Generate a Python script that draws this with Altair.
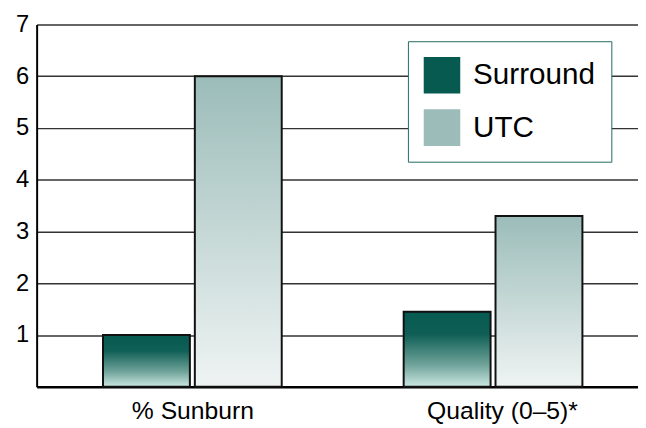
import altair as alt
import pandas as pd

categories = ["% Sunburn", "Quality (0–5)*"]
series = ["Surround", "UTC"]
surround_values = [1.0, 1.45]
utc_values = [6.0, 3.3]
y_ticks = [1, 2, 3, 4, 5, 6, 7]
legend_colors = ["#065a50", "#9bbcb9"]

rows = []
for i, c in enumerate(categories):
    rows.append({"category": c, "series": "Surround", "value": surround_values[i]})
    rows.append({"category": c, "series": "UTC", "value": utc_values[i]})
df = pd.DataFrame(rows)

FONT = "Liberation Sans"

grad_surround = {
    "gradient": "linear", "x1": 0, "y1": 0, "x2": 0, "y2": 1,
    "stops": [
        {"offset": 0, "color": "#065a50"},
        {"offset": 0.3, "color": "#0f5f56"},
        {"offset": 0.7, "color": "#6ea299"},
        {"offset": 1, "color": "#cce8e3"},
    ],
}
grad_utc = {
    "gradient": "linear", "x1": 0, "y1": 0, "x2": 0, "y2": 1,
    "stops": [
        {"offset": 0, "color": "#9bbcb9"},
        {"offset": 1, "color": "#eff4f3"},
    ],
}

x_enc = alt.X(
    "category:N", sort=categories,
    scale=alt.Scale(paddingInner=0, paddingOuter=0),
    axis=alt.Axis(
        title=None, labelAngle=0,
        labelOffset={"condition": {"test": "datum.value === '% Sunburn'", "value": 6}, "value": 15},
    ),
)
xo_enc = alt.XOffset(
    "series:N", sort=series,
    scale=alt.Scale(domain=series, paddingInner=0, paddingOuter=0.637, align=0.546),
)
y_enc = alt.Y(
    "value:Q",
    scale=alt.Scale(domain=[0, 7], nice=False),
    axis=alt.Axis(title=None, values=y_ticks, grid=True),
)

base = alt.Chart(df).encode(x=x_enc, xOffset=xo_enc, y=y_enc)

bars_s = base.transform_filter(alt.datum.series == "Surround").mark_bar(
    fill=grad_surround, stroke="#111111", strokeWidth=2, width=88
)
bars_u = base.transform_filter(alt.datum.series == "UTC").mark_bar(
    fill=grad_utc, stroke="#111111", strokeWidth=2, width=88
)

legend = alt.Legend(
    title=None, orient="none", legendX=376, legendY=17, padding=16,
    fillColor="white", strokeColor="#1f6b60",
    symbolType="square", symbolSize=1369, symbolStrokeWidth=0,
    symbolOpacity=1, labelFont=FONT, labelFontSize=30, labelColor="black",
    labelOffset=13, rowPadding=16,
)

legend_layer = base.transform_filter("false").mark_bar().encode(
    color=alt.Color(
        "series:N",
        scale=alt.Scale(domain=series, range=legend_colors),
        legend=legend,
    )
)

chart = (
    alt.layer(bars_s, bars_u, legend_layer)
    .properties(
        width=609, height=367,
        autosize=alt.AutoSizeParams(type="none"),
        padding={"left": 29, "top": 14, "right": 0, "bottom": 38},
    )
    .configure_view(stroke=None)
    .configure_axisY(
        domainColor="black", domainWidth=2, gridColor="#333333", gridWidth=1.5,
        ticks=False, labelFont=FONT, labelFontSize=24, labelColor="black",
        labelPadding=8,
    )
    .configure_axisX(
        domainColor="black", domainWidth=2.5, ticks=False, grid=False,
        labelFont=FONT, labelFontSize=25, labelColor="black", labelPadding=12,
    )
)

chart.save("out.html", embed_options={"renderer": "svg", "actions": False})
